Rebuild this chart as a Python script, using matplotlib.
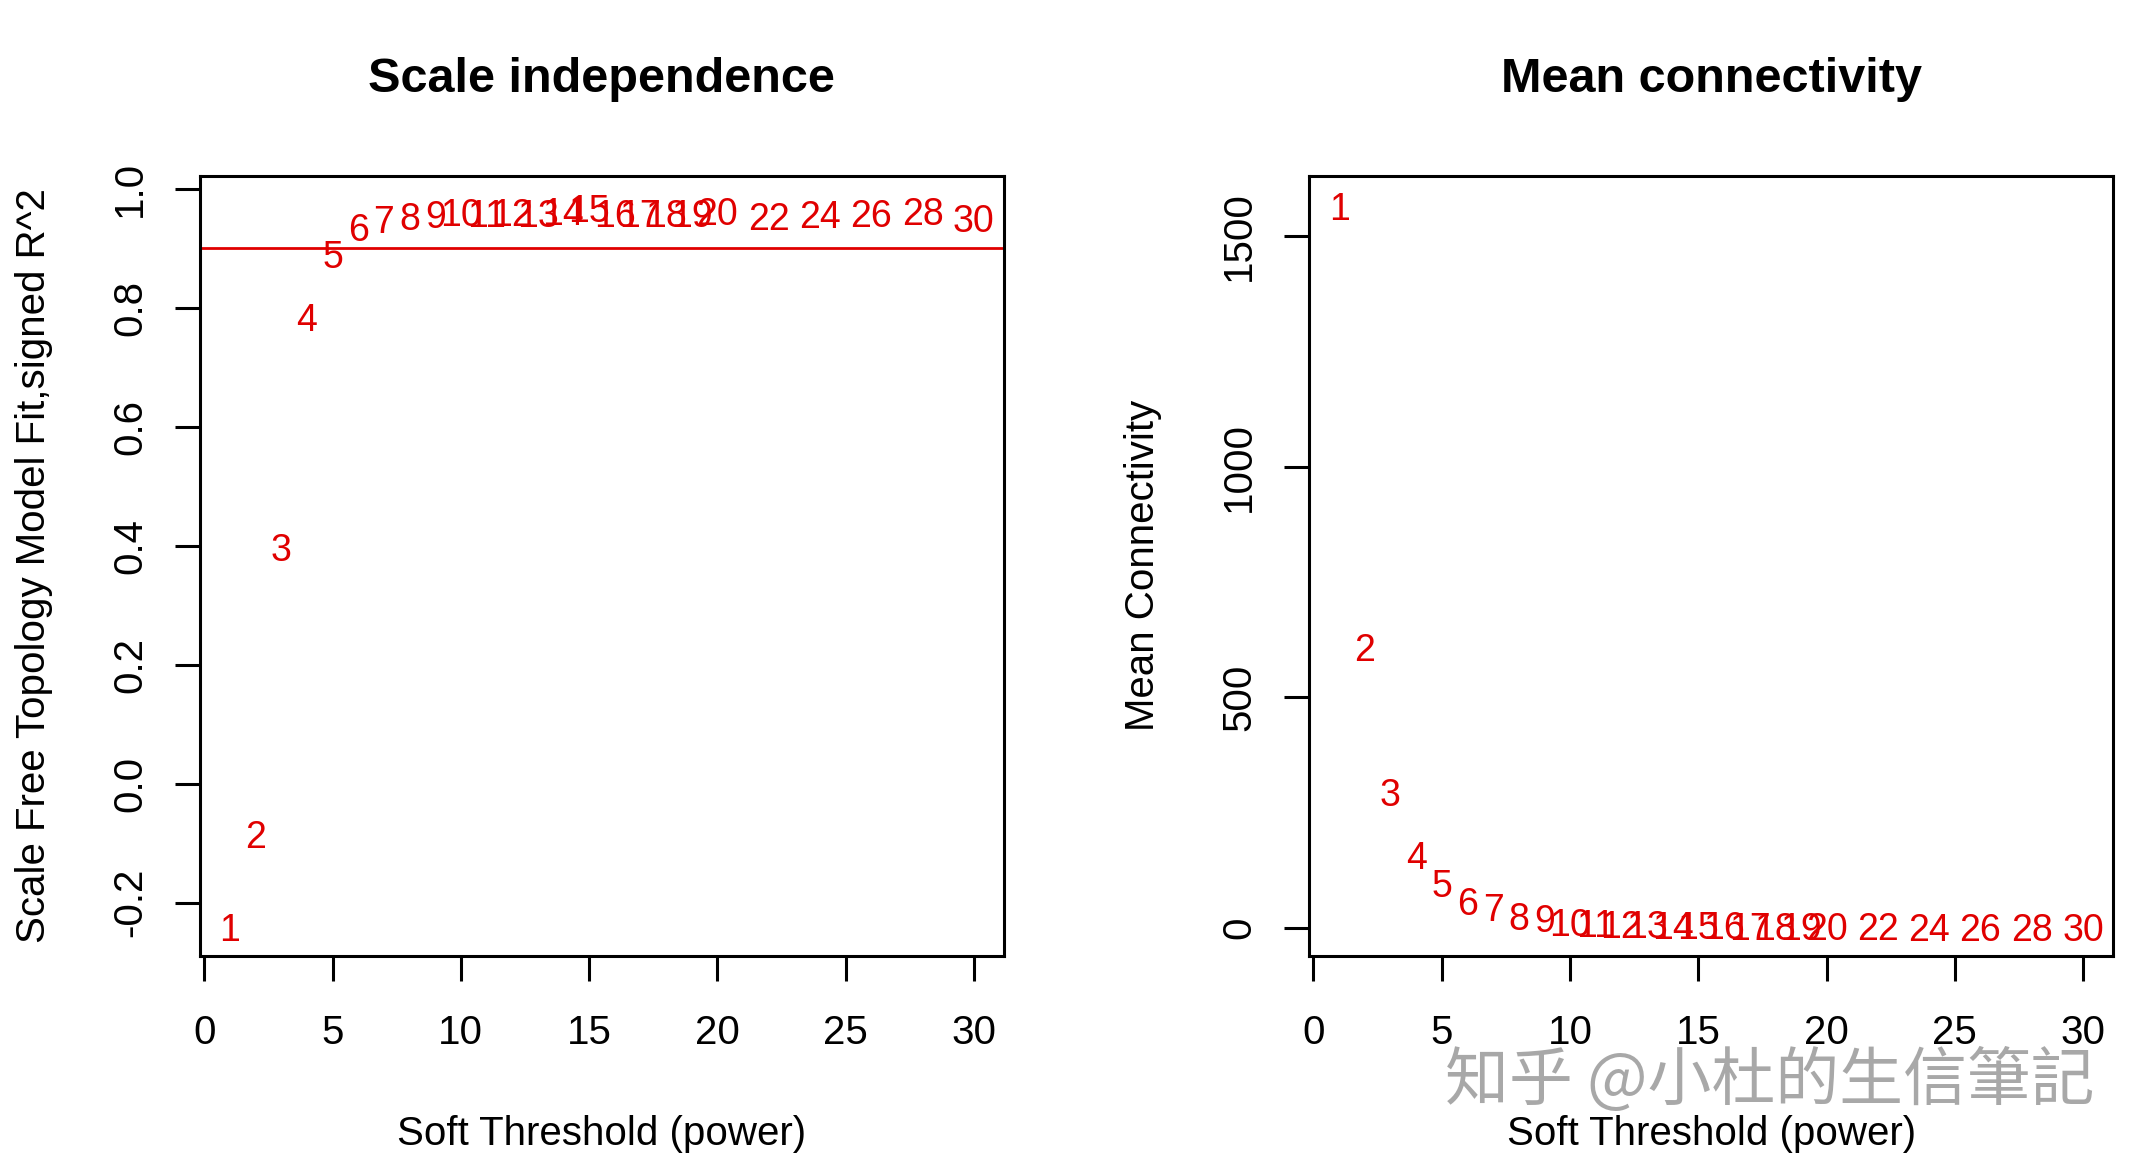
import matplotlib.pyplot as plt

plt.rcParams['font.family'] = ['Liberation Sans', 'DejaVu Sans']

# soft-thresholding powers tested
powers = [1, 2, 3, 4, 5, 6, 7, 8, 9, 10, 11, 12, 13, 14, 15, 16, 17, 18, 19, 20,
          22, 24, 26, 28, 30]

# scale free topology fit (signed R^2)
signed_r2 = [-0.241, -0.084, 0.398, 0.784, 0.891, 0.935, 0.949, 0.954, 0.957, 0.961,
             0.960, 0.961, 0.959, 0.963, 0.967, 0.960, 0.959, 0.960, 0.959, 0.963,
             0.954, 0.957, 0.960, 0.963, 0.950]

# mean connectivity
mean_k = [1566, 608, 295, 158, 97, 58, 45, 25, 20, 12,
          9, 8, 7, 6, 5, 5, 4, 4, 3, 3,
          3, 2, 2, 2, 2]

r2_cutoff = 0.9

x_ticks = [0, 5, 10, 15, 20, 25, 30]
r2_ticks = [-0.2, 0.0, 0.2, 0.4, 0.6, 0.8, 1.0]
r2_tick_labels = ['-0.2', '0.0', '0.2', '0.4', '0.6', '0.8', '1.0']
k_ticks = [0, 500, 1000, 1500]
k_tick_labels = ['0', '500', '1000', '1500']

RED = '#e00000'

fig = plt.figure(figsize=(21.5, 11.61), dpi=100)
ax1 = fig.add_axes([0.0931, 0.1769, 0.3737, 0.6718])
ax2 = fig.add_axes([0.609, 0.1769, 0.3737, 0.6718])


def style_axis(ax):
    for spine in ax.spines.values():
        spine.set_linewidth(2.2)
    ax.tick_params(axis='both', direction='out', length=17.8, width=2.2,
                   labelsize=29)
    ax.tick_params(axis='x', pad=24.5)
    ax.tick_params(axis='y', pad=19, labelrotation=90)
    for lab in ax.get_yticklabels():
        lab.set_va('center')
    ax.set_xlim(-0.16, 31.16)
    ax.set_xticks(x_ticks)
    ax.set_xlabel('Soft Threshold (power)', fontsize=29, labelpad=45)


# left panel: scale independence
for p, v in zip(powers, signed_r2):
    ax1.text(p, v, str(p), color=RED, fontsize=27, ha='center',
             va='center_baseline')
ax1.axhline(r2_cutoff, color=RED, lw=2.0)
ax1.set_ylim(-0.289, 1.022)
ax1.set_yticks(r2_ticks)
ax1.set_yticklabels(r2_tick_labels)
style_axis(ax1)
ax1.set_ylabel('Scale Free Topology Model Fit,signed R^2', fontsize=29, labelpad=42)
ax1.set_title('Scale independence', fontsize=35, fontweight='bold', pad=60)

# right panel: mean connectivity
for p, v in zip(powers, mean_k):
    ax2.text(p, v, str(p), color=RED, fontsize=27, ha='center',
             va='center_baseline')
ax2.set_ylim(-61, 1632)
ax2.set_yticks(k_ticks)
ax2.set_yticklabels(k_tick_labels)
style_axis(ax2)
ax2.set_ylabel('Mean Connectivity', fontsize=29, labelpad=42)
ax2.set_title('Mean connectivity', fontsize=35, fontweight='bold', pad=60)

# watermark
fig.text(0.9741, 0.068, '知乎 @小杜的生信筆記', fontsize=46, color='#a8a8a8',
         ha='right', va='center', family=['Noto Sans CJK TC', 'DejaVu Sans'],
         zorder=10)

fig.savefig('out.png', dpi=100)
